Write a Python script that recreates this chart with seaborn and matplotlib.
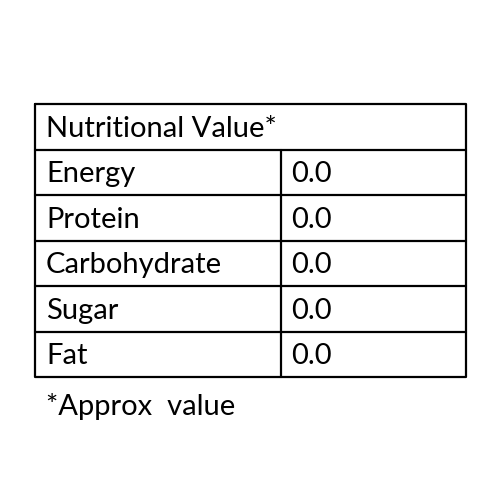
import matplotlib
matplotlib.use("Agg")
import matplotlib.pyplot as plt
import seaborn as sns

title = "Nutritional Value*"
nutrients = ["Energy", "Protein", "Carbohydrate", "Sugar", "Fat"]
values = ["0.0", "0.0", "0.0", "0.0", "0.0"]
footnote = "*Approx  value"

sns.set_style("white")
plt.rcParams['font.family'] = ['Lato', 'DejaVu Sans']
fig = plt.figure(figsize=(5, 5), dpi=100)
ax = fig.add_axes([0, 0, 1, 1])
ax.set_xlim(0, 500); ax.set_ylim(500, 0); ax.axis("off")

L, R, M, T = 35, 466, 281, 104
rh = 45.5
n = len(nutrients)
B = T + rh * (n + 1)
lw = 1.6
ax.plot([L, R, R, L, L], [T, T, B, B, T], color="black", lw=lw)
for i in range(1, n + 1):
    y = T + rh * i
    ax.plot([L, R], [y, y], color="black", lw=lw)
ax.plot([M, M], [T + rh, B], color="black", lw=lw)

fs = 21
ax.text(L + 11, T + rh / 2 + 2, title, fontsize=fs, va="center", ha="left", color="black")
for i, (nm, v) in enumerate(zip(nutrients, values)):
    y = T + rh * (i + 1.5) + 2
    ax.text(L + 11, y, nm, fontsize=fs, va="center", ha="left", color="black")
    ax.text(M + 10, y, v, fontsize=fs, va="center", ha="left", color="black")
ax.text(L + 11, B + 29, footnote, fontsize=fs, va="center", ha="left", color="black")
fig.savefig("out.png", dpi=100)
